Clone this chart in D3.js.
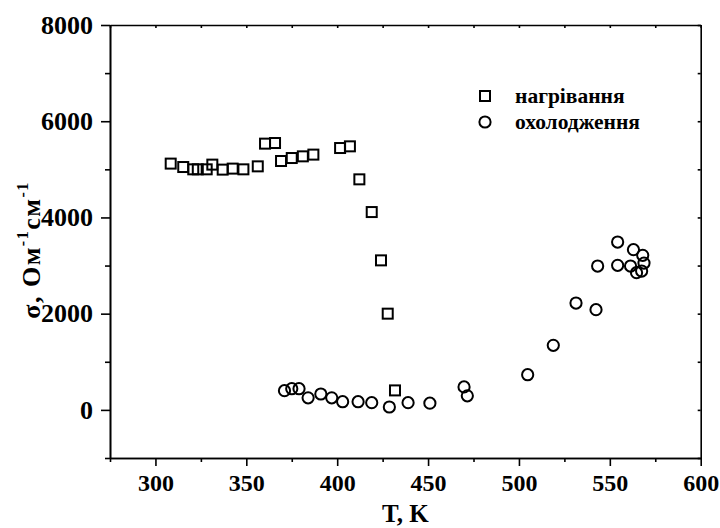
<!DOCTYPE html>
<html>
<head>
<meta charset="utf-8">
<script src="https://cdn.jsdelivr.net/npm/d3@7/dist/d3.min.js"></script>
<style>
  body { margin: 0; background: #fff; }
  svg text { font-family: "Liberation Serif", "Times New Roman", serif; font-weight: bold; fill: #000; }
</style>
</head>
<body>
<div class="chart"></div>
<script>
// heating (squares)
const heatT = [308.4, 315.3, 320.8, 323.3, 328.2, 331.3, 337.0, 342.5, 348.4, 356.3, 360.3, 365.8,
    369.1, 375.0, 381.1, 386.9, 401.6, 407.0, 412.2, 419.0, 424.1, 427.8, 431.8];
const heatS = [5119, 5048, 5000, 5000, 5000, 5098, 4994, 5015, 5000, 5062, 5534, 5547,
    5173, 5235, 5270, 5306, 5443, 5478, 4792, 4112, 3108, 2000, 405];

// cooling (circles)
const coolT = [371, 375, 379, 384, 391, 397, 403, 411.5, 419, 428.7, 439, 451, 469.8, 471.6,
    504.8, 518.9, 531.4, 542.4, 543.3, 554.3, 554.3, 561.4, 563, 568.1, 568.8, 567.5, 564.7];
const coolS = [400, 440, 440, 250, 330, 250, 170, 170, 150, 60, 150, 140, 478, 293,
    731, 1341, 2221, 2083, 2990, 3489, 3004, 2990, 3331, 3212, 3052, 2886, 2852];

const xMajor = [300, 350, 400, 450, 500, 550, 600];
const xMinor = [275, 325, 375, 425, 475, 525, 575];
const yMajor = [0, 2000, 4000, 6000, 8000];
const yMinor = [-1000, 1000, 3000, 5000, 7000];

const legendNames = ["нагрівання", "охолодження"];

const WIDTH = 720;
const HEIGHT = 528;

const x = d3.scaleLinear().domain([275, 600]).range([110, 700.7]);
const y = d3.scaleLinear().domain([-1000, 8000]).range([458, 25]);

const svg = d3.select(".chart")
    .append("svg")
    .attr("width", WIDTH)
    .attr("height", HEIGHT);

function styleAxis(size) {
    return g => {
        g.selectAll("path, line").attr("stroke", "#000").attr("stroke-width", 1.6);
        g.selectAll("text").style("font-size", size + "px").attr("fill", "#000");
    };
}

// left axis: major + minor, outward
svg.append("g").attr("transform", `translate(${x(275)},0)`)
    .call(d3.axisLeft(y).tickValues(yMajor).tickSize(9).tickSizeOuter(0).tickPadding(8).tickFormat(d3.format("d")))
    .call(styleAxis(26));
svg.append("g").attr("transform", `translate(${x(275)},0)`)
    .call(d3.axisLeft(y).tickValues(yMinor).tickSize(5).tickSizeOuter(0).tickFormat(""))
    .call(styleAxis(26));

// bottom axis
svg.append("g").attr("transform", `translate(0,${y(-1000)})`)
    .call(d3.axisBottom(x).tickValues(xMajor).tickSize(8).tickSizeOuter(0).tickPadding(8).tickFormat(d3.format("d")))
    .call(styleAxis(24));
svg.append("g").attr("transform", `translate(0,${y(-1000)})`)
    .call(d3.axisBottom(x).tickValues(xMinor).tickSize(4).tickSizeOuter(0).tickFormat(""))
    .call(styleAxis(24));

// right + top frame with short inward ticks
svg.append("g").attr("transform", `translate(${x(600)},0)`)
    .call(d3.axisLeft(y).tickValues(yMajor.concat(yMinor)).tickSize(3).tickSizeOuter(0).tickFormat(""))
    .call(styleAxis(24));
svg.append("g").attr("transform", `translate(0,${y(8000)})`)
    .call(d3.axisBottom(x).tickValues(xMajor.concat(xMinor)).tickSize(3).tickSizeOuter(0).tickFormat(""))
    .call(styleAxis(24));

// axis titles
svg.append("text")
    .attr("x", (x(275) + x(600)) / 2)
    .attr("y", 522)
    .attr("text-anchor", "middle")
    .style("font-size", "25px")
    .text("T, K");

const yTitle = svg.append("text")
    .attr("transform", "translate(40,250) rotate(-90)")
    .attr("text-anchor", "middle")
    .style("font-size", "26px")
    .style("letter-spacing", "1.5px");
yTitle.append("tspan").text("σ, Ом");
yTitle.append("tspan").attr("dy", -12).style("font-size", "16px").text("-1");
yTitle.append("tspan").attr("dy", 12).text("см");
yTitle.append("tspan").attr("dy", -12).style("font-size", "16px").text("-1");

// data
const heat = heatT.map((t, i) => ({t: t, s: heatS[i]}));
const cool = coolT.map((t, i) => ({t: t, s: coolS[i]}));

svg.append("g").selectAll("rect")
    .data(heat)
    .join("rect")
    .attr("x", d => x(d.t) - 5)
    .attr("y", d => y(d.s) - 5)
    .attr("width", 10)
    .attr("height", 10)
    .attr("fill", "none")
    .attr("stroke", "#000")
    .attr("stroke-width", 2);

svg.append("g").selectAll("circle")
    .data(cool)
    .join("circle")
    .attr("cx", d => x(d.t))
    .attr("cy", d => y(d.s))
    .attr("r", 5.6)
    .attr("fill", "none")
    .attr("stroke", "#000")
    .attr("stroke-width", 2);

// legend
const legend = svg.append("g").selectAll("g")
    .data(legendNames)
    .join("g")
    .attr("transform", (d, i) => `translate(485,${96 + i * 26})`);
legend.each(function (d, i) {
    const g = d3.select(this);
    if (i == 0) {
        g.append("rect").attr("x", -5).attr("y", -5).attr("width", 10).attr("height", 10)
            .attr("fill", "none").attr("stroke", "#000").attr("stroke-width", 2);
    } else {
        g.append("circle").attr("r", 5.6)
            .attr("fill", "none").attr("stroke", "#000").attr("stroke-width", 2);
    }
    g.append("text").attr("x", 30).attr("y", 7).style("font-size", "21.5px").text(d);
});
</script>
</body>
</html>
